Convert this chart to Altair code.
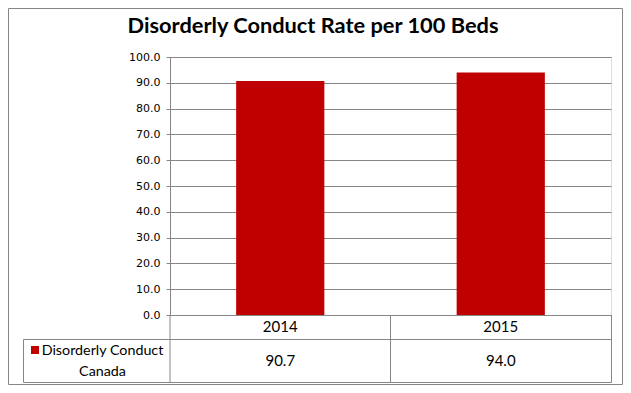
import altair as alt
import pandas as pd

# ---- data ----
title_text = "Disorderly Conduct Rate per 100 Beds"
years = ["2014", "2015"]
values = [90.7, 94.0]
series_name = "Disorderly Conduct Canada"
series_lines = ["Disorderly Conduct", "Canada"]
y_ticks = [0, 10, 20, 30, 40, 50, 60, 70, 80, 90, 100]

df = pd.DataFrame({"year": years, "value": values})
df["label"] = [f"{v:.1f}" for v in values]
one = pd.DataFrame({"series": [series_name]})

# ---- layout / style ----
W, H = 441, 258
GRID = "#868686"
RED = "#C00000"
FONT = "Lato"

xscale = alt.Scale(domain=years, paddingInner=0, paddingOuter=0)

bars = alt.Chart(df).mark_bar(color=RED, width=alt.RelativeBandSize(0.4)).encode(
    x=alt.X("year:N", scale=xscale, axis=None),
    y=alt.Y(
        "value:Q",
        scale=alt.Scale(domain=[0, 100], nice=False),
        axis=alt.Axis(
            values=y_ticks, format=".1f", title=None, grid=True,
            gridColor=GRID, domainColor=GRID, tickColor=GRID,
            tickSize=4, labelPadding=6, labelFont="DejaVu Sans",
            labelFontSize=11, labelColor="#000000",
        ),
    ),
)

year_text = alt.Chart(df).mark_text(font=FONT, fontSize=15, baseline="middle", color="#000000").encode(
    x=alt.X("year:N", scale=xscale, axis=None),
    y=alt.value(270),
    text="year:N",
)

value_text = alt.Chart(df).mark_text(font=FONT, fontSize=15, baseline="middle", color="#000000").encode(
    x=alt.X("year:N", scale=xscale, axis=None),
    y=alt.value(304),
    text="label:N",
)

col_rules = alt.Chart(df).mark_rule(color=GRID, strokeWidth=1).encode(
    x=alt.X("year:N", scale=xscale, axis=None, bandPosition=0),
    y=alt.value(258),
    y2=alt.value(325.5),
)

right_rule = alt.Chart(one).mark_rule(color=GRID).encode(
    x=alt.value(W + 0.5), y=alt.value(258), y2=alt.value(325.5)
)
h_rule1 = alt.Chart(one).mark_rule(color=GRID).encode(
    x=alt.value(-146.5), x2=alt.value(W + 0.5), y=alt.value(282.5)
)
h_rule2 = alt.Chart(one).mark_rule(color=GRID).encode(
    x=alt.value(-146.5), x2=alt.value(W + 0.5), y=alt.value(325.5)
)
left_rule = alt.Chart(one).mark_rule(color=GRID).encode(
    x=alt.value(-146.5), y=alt.value(282.5), y2=alt.value(325.5)
)

legend_sq = alt.Chart(one).mark_square(color=RED, size=64, opacity=1).encode(
    x=alt.value(-135), y=alt.value(293)
)
legend_txt = alt.Chart(one).mark_text(
    text=series_lines, font=FONT, fontSize=14.3, align="center",
    baseline="alphabetic", lineHeight=21, color="#000000",
).encode(x=alt.value(-67.5), y=alt.value(297.7))

title = alt.Chart(one).mark_text(
    text=title_text, font=FONT, fontWeight="bold", fontSize=21.8,
    align="center", baseline="alphabetic", color="#000000",
).encode(x=alt.value(143), y=alt.value(-23.7))

border = alt.Chart(one).mark_rect(fill="transparent", stroke=GRID, strokeWidth=1).encode(
    x=alt.value(-161.5), x2=alt.value(452.5), y=alt.value(-48.5), y2=alt.value(327.5)
)

chart = alt.layer(
    border, bars, col_rules, right_rule, h_rule1, h_rule2, left_rule,
    year_text, value_text, legend_sq, legend_txt, title,
).properties(
    width=W, height=H, autosize="none",
    padding={"left": 162, "top": 49, "right": 12, "bottom": 70},
).configure_view(strokeWidth=0).configure(background="white")

chart.save("out.html", embed_options={"renderer": "svg", "actions": False})
